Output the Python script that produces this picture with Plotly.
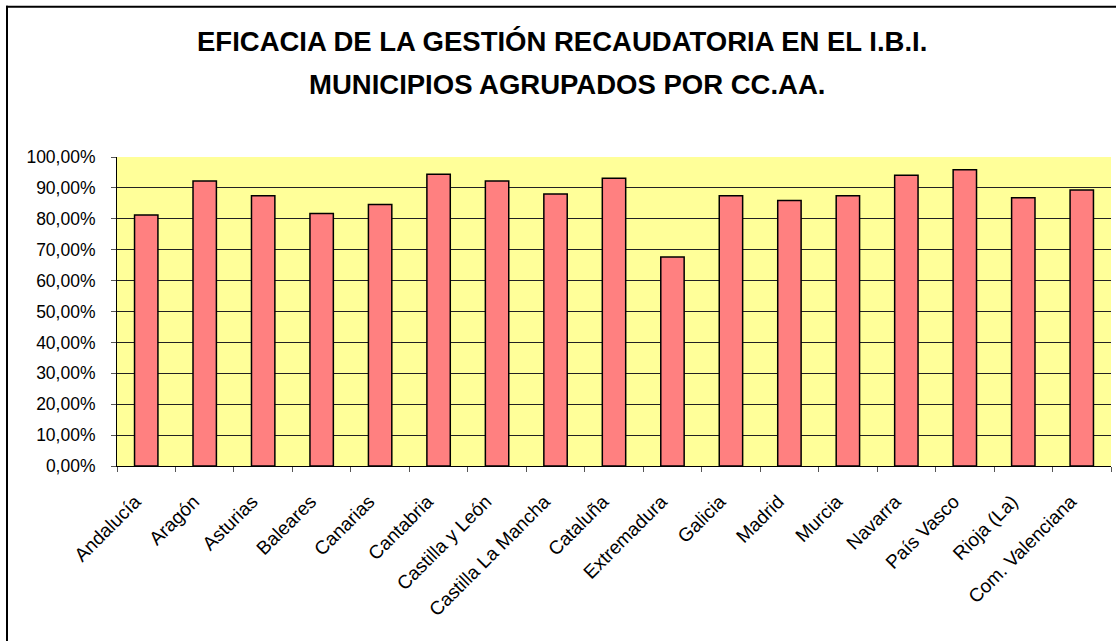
import plotly.graph_objects as go

categories = ["Andalucía", "Aragón", "Asturias", "Baleares", "Canarias", "Cantabria",
              "Castilla y León", "Castilla La Mancha", "Cataluña", "Extremadura", "Galicia",
              "Madrid", "Murcia", "Navarra", "País Vasco", "Rioja (La)", "Com. Valenciana"]
values = [81.2, 92.2, 87.5, 81.7, 84.6, 94.4, 92.2, 88.0, 93.1, 67.6, 87.5,
          85.9, 87.5, 94.1, 95.9, 86.8, 89.3]
title_lines = ["EFICACIA DE LA GESTIÓN RECAUDATORIA EN EL I.B.I.",
               "MUNICIPIOS AGRUPADOS POR CC.AA."]
ytick_vals = list(range(0, 101, 10))
ytick_text = ["0,00%", "10,00%", "20,00%", "30,00%", "40,00%", "50,00%",
              "60,00%", "70,00%", "80,00%", "90,00%", "100,00%"]
grid_vals = list(range(10, 100, 10))

W, H = 1116, 641
PL, PR, PT, PB = 117, 1111, 156.5, 466   # plot area in screen coords
L, R, T, B = PL, W - PR, PT, H - PB
pw, ph = W - L - R, H - T - B

def px(x):
    return (x - L) / pw

def py(y):
    return (H - B - y) / ph

FONT = "Liberation Sans, Arial, sans-serif"

fig = go.Figure()
fig.add_trace(go.Bar(x=categories, y=values,
                     marker=dict(color="#FF8080", line=dict(color="#000000", width=1.5)),
                     hoverinfo="x+y"))
# invisible trace on overlay axis carrying the gridlines
fig.add_trace(go.Scatter(x=[categories[0]], y=[0], yaxis="y2", mode="lines",
                         line=dict(width=0), hoverinfo="skip", showlegend=False))

fig.update_layout(
    width=W, height=H,
    margin=dict(l=L, r=R, t=T, b=B, pad=0),
    paper_bgcolor="white",
    plot_bgcolor="#FFFF99",
    showlegend=False,
    bargap=0.6,
    font=dict(family=FONT, size=17, color="black"),
    xaxis=dict(range=[-0.5, len(categories) - 0.5],
               showline=True, linecolor="black", linewidth=1,
               ticks="outside", ticklen=5, tickcolor="#555555", tickson="boundaries",
               tickangle=-45, showgrid=False, automargin=False,
               ticklabelstandoff=16, ticklabelshift=-11,
               tickfont=dict(family=FONT, size=19, color="black")),
    yaxis=dict(range=[0, 100], tickvals=ytick_vals, ticktext=ytick_text,
               showline=True, linecolor="black", linewidth=1,
               ticks="outside", ticklen=5, tickcolor="#555555", automargin=False,
               showgrid=False, zeroline=False, ticklabelstandoff=12,
               tickfont=dict(family=FONT, size=17.5, color="black")),
    yaxis2=dict(range=[0, 100], overlaying="y", tickvals=grid_vals, showgrid=True,
                gridcolor="#222222", gridwidth=1, showticklabels=False, ticks="",
                zeroline=False, showline=False),
    annotations=[
        dict(text=f"<b>{title_lines[0]}</b>", x=px(562), y=py(41), xref="paper", yref="paper",
             xanchor="center", yanchor="middle", showarrow=False,
             font=dict(family=FONT, size=27.5, color="black")),
        dict(text=f"<b>{title_lines[1]}</b>", x=px(567), y=py(84), xref="paper", yref="paper",
             xanchor="center", yanchor="middle", showarrow=False,
             font=dict(family=FONT, size=27.5, color="black")),
    ],
    shapes=[
        dict(type="line", xref="paper", yref="paper",
             x0=px(6), x1=px(1120), y0=py(6), y1=py(6),
             line=dict(color="black", width=2), layer="below"),
        dict(type="line", xref="paper", yref="paper",
             x0=px(7), x1=px(7), y0=py(5), y1=py(650),
             line=dict(color="black", width=2), layer="below"),
    ],
)

fig.write_html("out.html", config={"displayModeBar": False},
               post_script="document.body.style.margin='0';document.body.style.overflow='hidden';")
